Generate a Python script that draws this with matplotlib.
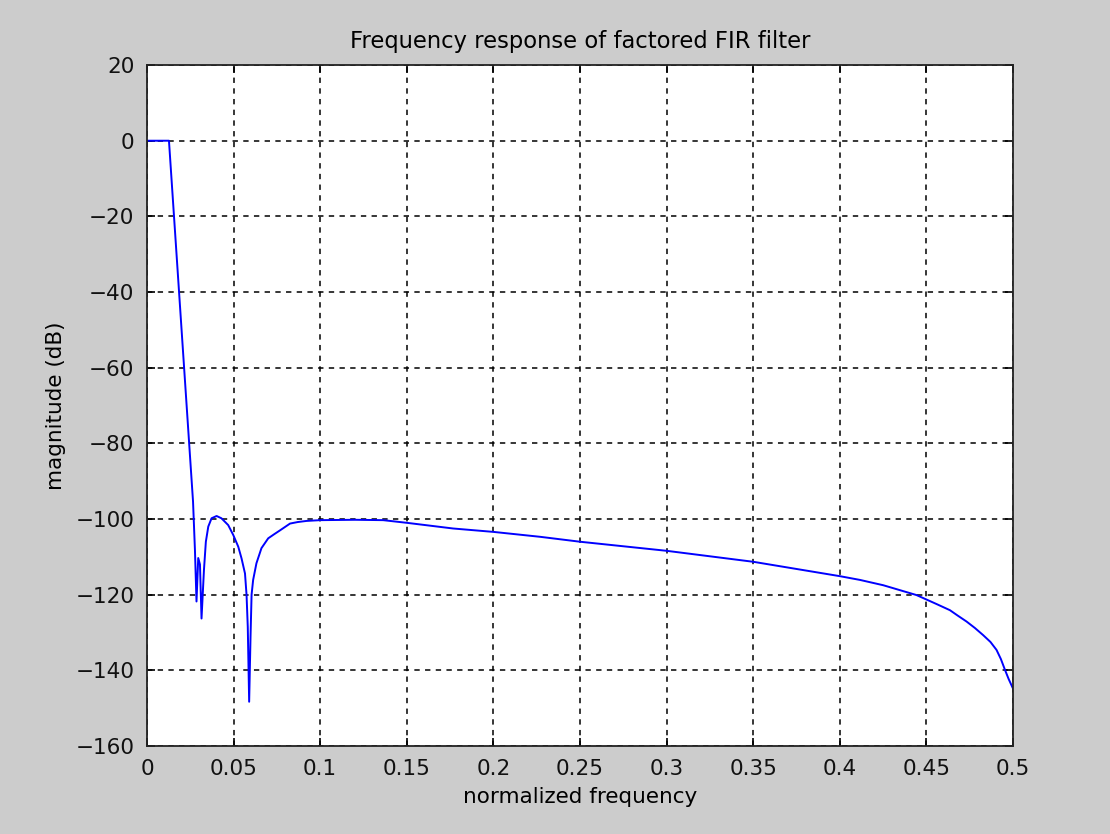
import matplotlib
matplotlib.use("Agg")
import matplotlib.pyplot as plt

# values
freq = [0.0, 0.0127, 0.0266, 0.0277, 0.0286, 0.0296, 0.0306, 0.0315, 0.0329,
        0.0340, 0.0354, 0.0373, 0.0402, 0.0430, 0.0469, 0.0498, 0.0527, 0.0546,
        0.0566, 0.0575, 0.0582, 0.0590, 0.0598, 0.0604, 0.0613, 0.0632, 0.0661,
        0.0700, 0.0735, 0.0768, 0.0826, 0.0870, 0.0922, 0.1000, 0.1200, 0.1364,
        0.1500, 0.1767, 0.2000, 0.2270, 0.2500, 0.3000, 0.3500, 0.4000, 0.4117,
        0.4251, 0.4443, 0.4560, 0.4636, 0.4680, 0.4732, 0.4780, 0.4828, 0.4870,
        0.4905, 0.4930, 0.4954, 0.4975, 0.5000]
mag_db = [0.0, 0.0, -95.4, -108.2, -121.8, -110.3, -112.0, -126.3, -113.5,
          -106.0, -102.0, -99.8, -99.2, -99.8, -101.6, -104.2, -107.3, -110.4,
          -114.4, -120.1, -128.5, -148.3, -131.0, -120.0, -116.1, -111.7, -107.7,
          -105.1, -104.0, -103.0, -101.2, -100.8, -100.5, -100.3, -100.2, -100.3,
          -101.0, -102.5, -103.4, -104.7, -106.0, -108.4, -111.3, -115.1, -116.1,
          -117.5, -120.1, -122.5, -124.1, -125.5, -127.1, -128.8, -130.7, -132.5,
          -134.6, -137.0, -139.9, -142.3, -144.8]

x_ticks = [0, 0.05, 0.1, 0.15, 0.2, 0.25, 0.3, 0.35, 0.4, 0.45, 0.5]
x_tick_labels = ["0", "0.05", "0.1", "0.15", "0.2", "0.25", "0.3", "0.35", "0.4", "0.45", "0.5"]
y_ticks = [20, 0, -20, -40, -60, -80, -100, -120, -140, -160]
y_tick_labels = ["20", "0", "\u221220", "\u221240", "\u221260", "\u221280",
                 "\u2212100", "\u2212120", "\u2212140", "\u2212160"]

plt.rcParams["font.family"] = ["DejaVu Sans"]
plt.rcParams["font.size"] = 15.5

fig = plt.figure(figsize=(11.1, 8.34), dpi=100, facecolor="#cccccc")
ax = fig.add_axes([0.1324, 0.1055, 0.7802, 0.8165])
ax.set_facecolor("white")

ax.plot(freq, mag_db, color="#0000ff", linewidth=1.4)

ax.set_xlim(0, 0.5)
ax.set_ylim(-160, 20)
ax.set_xticks(x_ticks)
ax.set_xticklabels(x_tick_labels)
ax.set_yticks(y_ticks)
ax.set_yticklabels(y_tick_labels)

ax.grid(True, color="black", linestyle=(0, (3.5, 3.5)), linewidth=1.1)
ax.tick_params(direction="in", length=6, width=1.2, top=True, right=True,
               pad=9, colors="black", labelcolor="#111111")
for spine in ax.spines.values():
    spine.set_linewidth(1.3)
    spine.set_color("#222222")

ax.set_title("Frequency response of factored FIR filter", fontsize=16.3, pad=12)
ax.set_xlabel("normalized frequency", fontsize=15.5, labelpad=6)
ax.set_ylabel("magnitude (dB)", fontsize=15.5, labelpad=7)

fig.savefig("out.png", dpi=100, facecolor=fig.get_facecolor())
